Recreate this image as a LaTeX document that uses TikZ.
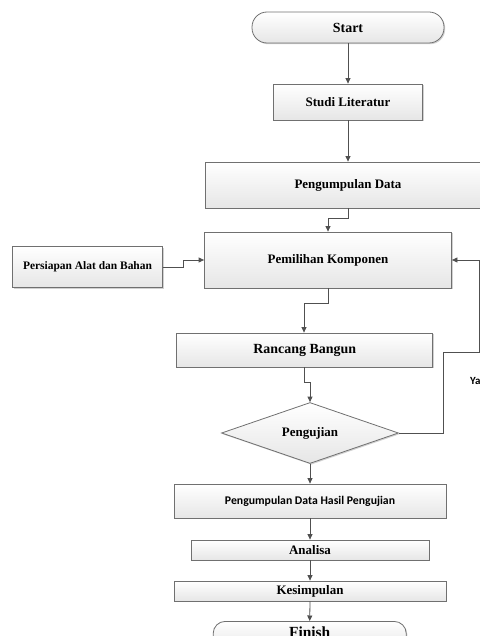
\documentclass[tikz,border=0pt]{standalone}
\usepackage{fontspec}
\setmainfont{Liberation Serif}
\newfontfamily\calib{Carlito}
\usetikzlibrary{arrows.meta,shapes.geometric,shadows}
\definecolor{boxline}{HTML}{707070}
\definecolor{conline}{HTML}{505050}
\definecolor{boxbot}{HTML}{E6E6E6}
\tikzset{
  box/.style={draw=boxline, line width=0.8bp, rectangle, inner sep=0pt,
    top color=white, bottom color=boxbot,
    drop shadow={shadow xshift=1.2bp, shadow yshift=-1.2bp, opacity=0.18, fill=black},
    font=\bfseries\fontsize{13}{15}\selectfont},
  term/.style={box, rounded corners=12bp},
  decis/.style={box, diamond, aspect=2.9},
  conn/.style={draw=conline, line width=0.8bp, -{Triangle[length=5.5bp,width=5bp]}},
  plain/.style={draw=conline, line width=0.8bp}
}
\begin{document}
\begin{tikzpicture}[x=1bp,y=-1bp]
\useasboundingbox (0,0) rectangle (480,636);
% nodes
\node[term, minimum width=192bp, minimum height=31bp, rounded corners=15bp,
      font=\bfseries\fontsize{14}{16}\selectfont] (start) at (348,27.5) {Start};
\node[box, minimum width=149bp, minimum height=36bp] (studi) at (348,102) {Studi Literatur};
\node[box, minimum width=286bp, minimum height=46bp] (pd) at (348,185) {Pengumpulan Data};
\node[box, minimum width=247bp, minimum height=56bp] (pk) at (328,260) {Pemilihan Komponen};
\node[box, minimum width=150bp, minimum height=41bp,
      font=\bfseries\fontsize{11.5}{13}\selectfont] (pab) at (87.5,267) {Persiapan Alat dan Bahan};
\node[box, minimum width=256bp, minimum height=34bp,
      font=\bfseries\fontsize{14}{16}\selectfont] (rb) at (304.7,350) {Rancang Bangun};
\node[decis, minimum width=177bp, minimum height=61bp] (pj) at (310,433) {Pengujian};
\node[box, minimum width=272bp, minimum height=34bp,
      font=\calib\bfseries\fontsize{11.8}{14}\selectfont] (pdhp) at (310,501) {Pengumpulan Data Hasil Pengujian};
\node[box, minimum width=238bp, minimum height=20bp] (an) at (310,550) {Analisa};
\node[box, minimum width=272bp, minimum height=20bp] (ks) at (310,591) {Kesimpulan};
\node[term, minimum width=193bp, minimum height=28bp, anchor=north,
      font=\bfseries\fontsize{15.5}{17}\selectfont] (fin) at (309.7,621) {\raisebox{6.5bp}{Finish}};
\node[anchor=base west, inner sep=0pt, font=\calib\bfseries\fontsize{11}{13}\selectfont] (ya) at (470,384) {Ya};
% helper coordinates
\coordinate (lr1) at (443,352.5);
\coordinate (lr2) at (479.3,352.5);
\coordinate (lr3) at (479.3,260);
% connectors
\draw[conn] (start.south) -- (studi.north);
\draw[conn] (studi.south) -- (pd.north);
\draw[conn] (pd.south) -- ++(0,10) -| (pk.north);
\draw[conn] (pab.east) -- ++(20.5,0) |- (pk.west);
\draw[conn] (pk.south) -- ++(0,15) -| (rb.north -| 304,0);
\draw[conn] (rb.south -| 304,0) -- ++(0,15) -| (pj.north);
\draw[conn] (pj.east) -| (lr1) -- (lr2) -- (lr3) -- (pk.east);
\draw[conn] (pj.south) -- (pdhp.north);
\draw[conn] (pdhp.south) -- (an.north);
\draw[conn] (an.south) -- (ks.north);
\draw[conn] (ks.south) -- (fin.north);
\end{tikzpicture}
\end{document}
